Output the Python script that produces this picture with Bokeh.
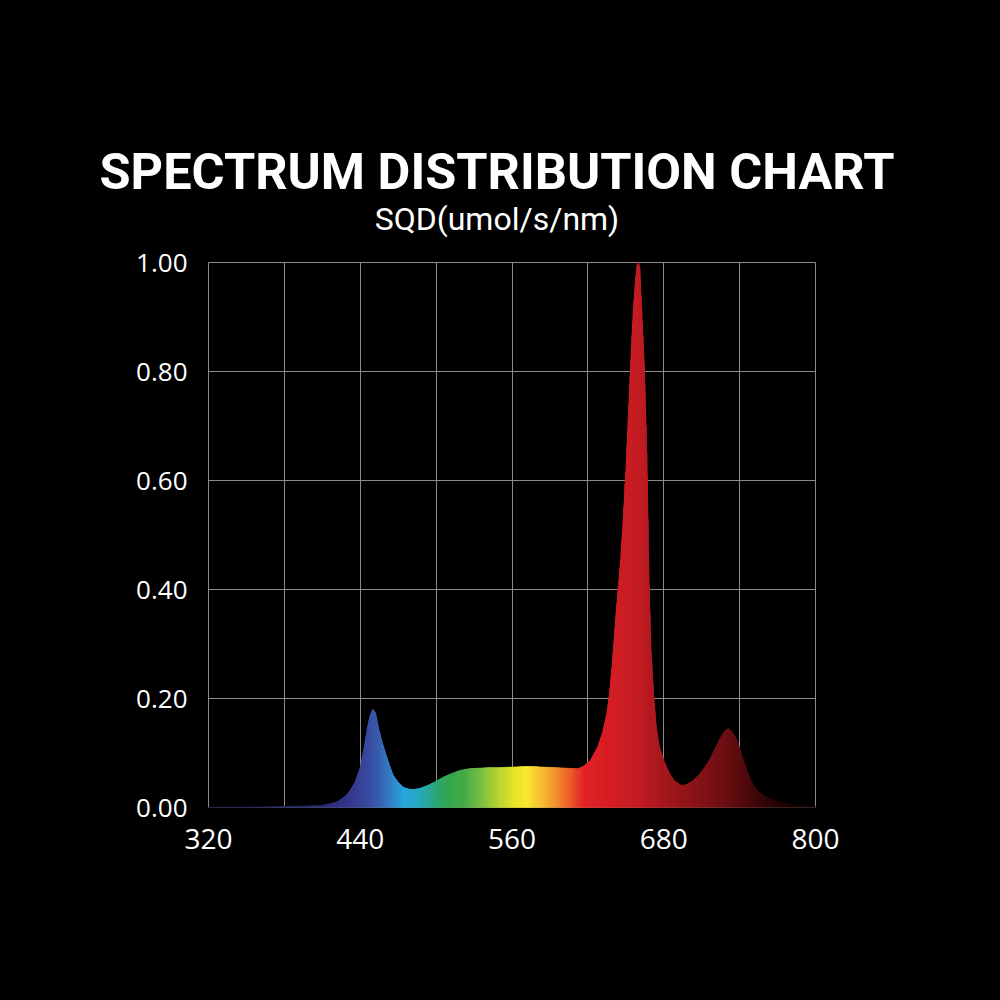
import numpy as np
from bokeh.plotting import figure
from bokeh.layouts import column
from bokeh.models import Range1d, FixedTicker, NumeralTickFormatter
from bokeh.core.properties import value
from bokeh.embed import file_html
from bokeh.resources import INLINE

# ---------------- data ----------------
WAVELENGTH = [320, 360, 380, 400, 410, 417, 422, 428, 432, 436, 440, 443, 446, 448,
              450, 452, 454, 457, 460, 463, 466, 470, 474, 478, 482, 487, 493, 500,
              506, 512, 519, 526, 533, 541, 551, 560, 570, 577, 585, 595, 604, 612,
              617, 622, 628, 632, 635, 637, 639, 641, 643, 646, 648, 650, 652, 654,
              656, 658, 659, 660, 661, 662.5, 664.5, 666, 667, 668, 669, 670, 672,
              674, 676, 680, 684, 688, 694, 698, 703, 708, 712, 717, 721, 725, 728,
              731, 734, 738, 741, 745, 748, 751, 756, 762, 770, 778, 786, 794, 800]
SQD = [0.001, 0.001, 0.002, 0.003, 0.004, 0.007, 0.011, 0.020, 0.031, 0.047, 0.073,
       0.108, 0.150, 0.170, 0.180, 0.174, 0.150, 0.122, 0.099, 0.078, 0.059, 0.046,
       0.037, 0.034, 0.033, 0.035, 0.040, 0.048, 0.056, 0.062, 0.068, 0.071, 0.072,
       0.073, 0.073, 0.074, 0.075, 0.075, 0.074, 0.073, 0.072, 0.071, 0.076, 0.086,
       0.112, 0.140, 0.172, 0.205, 0.255, 0.315, 0.375, 0.455, 0.530, 0.615, 0.715,
       0.820, 0.915, 0.975, 0.995, 1.000, 0.990, 0.915, 0.815, 0.700, 0.605, 0.455,
       0.360, 0.285, 0.205, 0.150, 0.116, 0.086, 0.065, 0.050, 0.040, 0.042, 0.049,
       0.060, 0.072, 0.090, 0.110, 0.128, 0.140, 0.145, 0.139, 0.123, 0.100, 0.073,
       0.055, 0.040, 0.027, 0.018, 0.011, 0.007, 0.004, 0.003, 0.002]

X_TICKS = [320, 440, 560, 680, 800]
X_GRID = [320, 380, 440, 500, 560, 620, 680, 740, 800]
Y_TICKS = [0.0, 0.2, 0.4, 0.6, 0.8, 1.0]
TITLE = "SPECTRUM DISTRIBUTION CHART"
SUBTITLE = "SQD(umol/s/nm)"

# colour stops of the spectral gradient (styling)
STOP_NM = [320, 400, 430, 445, 455, 465, 475, 488, 500, 510, 522, 535, 548, 562, 572,
           585, 597, 607, 617, 640, 660, 680, 705, 730, 750, 770, 800]
STOP_COLOR = ["#15153a", "#262766", "#34388a", "#3a4a9f", "#3a5fb0", "#3584c8",
              "#29a9e1", "#2aaabf", "#2ba77a", "#36a84e", "#45ac4a", "#77bf44",
              "#b5d334", "#e8e52c", "#fbec32", "#f8b933", "#f38a30", "#ee5a2b",
              "#e42527", "#d51f26", "#c41e24", "#a8191e", "#8a1519", "#6e1114",
              "#450a0c", "#240606", "#140404"]


def _rgb(h):
    h = h.lstrip("#")
    return np.array([int(h[i:i + 2], 16) for i in (0, 2, 4)], dtype=float)


_STOP_RGB = np.array([_rgb(c) for c in STOP_COLOR])


def color_at(nm):
    r = np.interp(nm, STOP_NM, _STOP_RGB[:, 0])
    g = np.interp(nm, STOP_NM, _STOP_RGB[:, 1])
    b = np.interp(nm, STOP_NM, _STOP_RGB[:, 2])
    return "#%02x%02x%02x" % (int(round(r)), int(round(g)), int(round(b)))


# split each straight segment of the curve into thin slices so the fill can carry a gradient
xs_list, ys_list, colors = [], [], []
for i in range(len(WAVELENGTH) - 1):
    x0, x1 = WAVELENGTH[i], WAVELENGTH[i + 1]
    y0, y1 = SQD[i], SQD[i + 1]
    n = max(1, int(np.ceil((x1 - x0) / 0.5)))
    for k in range(n):
        a = x0 + (x1 - x0) * k / n
        b = x0 + (x1 - x0) * (k + 1) / n
        ya = y0 + (y1 - y0) * k / n
        yb = y0 + (y1 - y0) * (k + 1) / n
        xs_list.append([a, a, b, b])
        ys_list.append([0, ya, yb, 0])
        colors.append(color_at((a + b) / 2))

GRID = "#8c8c8c"
HEADER_H = 240

# ---------------- header (title + unit line) ----------------
head = figure(width=1000, height=HEADER_H, title=None, x_range=Range1d(0, 1000),
              y_range=Range1d(HEADER_H, 0), x_axis_type=None, y_axis_type=None,
              output_backend="svg", toolbar_location=None,
              min_border_left=0, min_border_right=0, min_border_top=0, min_border_bottom=0,
              frame_align=False,
              background_fill_color="black", border_fill_color="black",
              outline_line_color=None)
head.grid.visible = False
head.text(x=[496.5], y=[171], text=[TITLE], text_align="center",
          text_baseline="alphabetic", text_color="white",
          text_font=value("Roboto"), text_font_style="bold", text_font_size="50.5px")
head.text(x=[496.5], y=[218], text=[SUBTITLE], text_align="center",
          text_baseline="alphabetic", text_color="white",
          text_font=value("Roboto"), text_font_style="normal", text_font_size="32px")

# ---------------- chart ----------------
p = figure(width=1000, height=1000 - HEADER_H, title=None,
           x_range=Range1d(320, 800), y_range=Range1d(0, 1.0),
           output_backend="svg", toolbar_location=None,
           min_border_left=208, min_border_right=185,
           min_border_top=262 - HEADER_H, min_border_bottom=193,
           frame_align=False,
           background_fill_color="black", border_fill_color="black",
           outline_line_color=GRID, outline_line_width=1)

p.patches(xs=xs_list, ys=ys_list, fill_color=colors, line_color=colors, line_width=0.8)

for ax in (p.xaxis, p.yaxis):
    ax.axis_line_color = None
    ax.major_tick_line_color = None
    ax.minor_tick_line_color = None
    ax.major_tick_out = 0
    ax.major_tick_in = 0
    ax.major_label_text_color = "white"
    ax.major_label_text_font = "Open Sans"

p.xaxis.ticker = FixedTicker(ticks=X_TICKS)
p.xaxis.major_label_text_font_size = "28px"
p.xaxis.major_label_standoff = 21
p.yaxis.ticker = FixedTicker(ticks=Y_TICKS)
p.yaxis.formatter = NumeralTickFormatter(format="0.00")
p.yaxis.major_label_text_font_size = "26px"
p.yaxis.major_label_standoff = 21

p.xgrid.ticker = FixedTicker(ticks=X_GRID)
p.ygrid.ticker = FixedTicker(ticks=Y_TICKS)
p.grid.grid_line_color = GRID
p.grid.grid_line_width = 1

layout = column(head, p, spacing=0, styles={"background-color": "black"})
open("out.html", "w").write(file_html(layout, INLINE))
